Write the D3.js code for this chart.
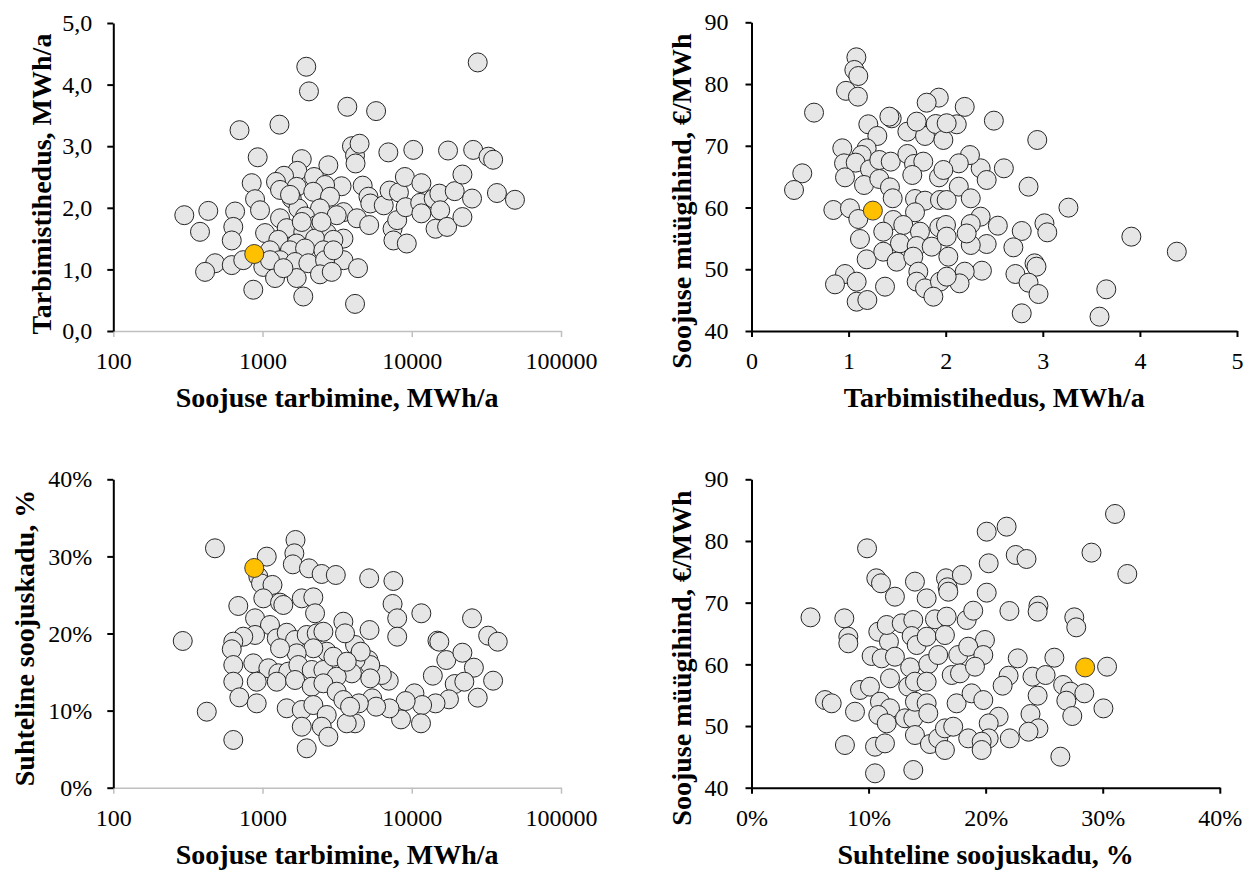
<!DOCTYPE html>
<html>
<head>
<meta charset="utf-8">
<script src="https://cdn.jsdelivr.net/npm/d3@7"></script>
<style>
  html, body { margin: 0; padding: 0; background: #ffffff; }
  svg { display: block; font-family: "Liberation Serif", "Times New Roman", serif; }
</style>
</head>
<body>
<script>
// Soojuse tarbimine (MWh/a) vs tarbimistihedus (MWh/a)
const consumptionA = [299,701,1298,1964,2047,3386,3486,3486,3486,3700,3973,4167,4200,4470,4365,4167,4290,4688,5126,5184,5272,5768,6490,6966,7096,7436,7536,7987,8204,8990,9100,9260,10240,11390,11600,11600,14020,14430,15300,15500,17250,17500,19400,21850,21850,25350,25800,27670,32650,35100,37220,49150,
  928,1832,2761,1711,2215,1393,1231,846,2624,1694,1310,2188,891,1570,2833,433,655,962,1738,2427,1310,1927,3141,637,381,1040,1452,2305,1875,2692,622,1276,1694,2249,2985,481,412,622,743,1122,1527,1927,2558,1012,1310,1652,2028,2624,2985,1213,1694,2427,2910,867,1875,
  1528,1832,2485,1122,1380];
const densityA = [1.88,3.26,3.35,4.29,3.89,2.35,1.93,1.50,1.15,3.64,3.00,2.85,2.72,3.04,1.02,0.44,1.83,2.36,2.18,1.72,2.07,3.57,2.04,2.90,2.28,1.66,1.47,1.80,2.25,2.50,2.01,1.42,2.94,2.08,2.40,1.91,2.15,1.66,2.23,1.96,1.69,2.93,2.27,2.54,1.85,2.15,2.94,4.36,2.83,2.78,2.24,2.13,
  2.82,2.79,2.69,2.60,2.50,2.52,2.42,2.40,2.37,2.34,2.29,2.26,2.14,2.15,2.18,1.95,1.94,1.96,1.99,1.99,1.83,1.86,1.88,1.69,1.61,1.59,1.67,1.72,1.61,1.59,1.47,1.48,1.42,1.50,1.48,1.10,0.96,1.07,1.15,1.31,1.31,1.34,1.31,1.04,1.15,1.12,1.10,1.15,1.31,0.86,0.86,0.92,0.96,0.67,0.56,
  2.21,1.77,1.77,1.15,1.02];

// Tarbimistihedus (MWh/a) vs soojuse müügihind (€/MWh)
const densityB = [1.080,1.059,1.100,0.973,1.096,1.929,2.196,2.496,2.114,2.943,2.599,2.360,2.250,2.422,2.135,2.135,2.258,2.360,2.258,2.537,2.853,3.264,3.017,3.046,2.783,2.697,2.422,2.258,2.915,2.935,2.373,2.196,2.143,2.718,2.853,2.956,2.783,3.584,3.654,3.912,4.380,
  0.644,1.203,1.296,1.444,1.420,1.605,1.787,1.701,1.897,1.804,1.976,2.010,0.935,1.186,1.135,0.953,1.073,1.220,1.316,1.434,1.605,1.674,1.769,0.963,1.159,1.316,1.426,1.656,1.931,1.976,0.523,0.438,0.843,1.014,1.100,1.454,1.684,1.787,1.684,1.941,2.010,1.460,1.563,1.735,1.934,2.003,1.117,1.357,1.529,1.701,1.856,2.010,1.186,1.357,1.495,1.666,2.027,0.963,0.860,1.083,1.375,1.718,1.701,1.787,1.941,2.010,1.083,1.193,1.873,
  2.216];
const priceB = [84.33,82.28,81.3,78.9,77.96,77.8,76.3,74.07,73.48,70.94,66.35,66.35,68.5,64.46,67.16,63.38,61.49,58.52,57.33,57.06,63.38,59.98,57.44,55.98,56.2,53.55,54.09,53.93,50.96,50.42,49.77,49.61,47.72,49.23,47.83,45.99,42.86,42.32,46.75,55.28,52.85,
  75.37,73.48,71.59,74.45,74.72,72.29,71.59,73.91,73.53,76.98,70.94,73.65,69.59,69.59,68.51,67.16,67.27,66.19,67.70,67.43,68.67,67.05,67.43,64.89,63.65,64.62,63.27,65.27,64.89,66.08,65.54,62.84,59.60,59.87,58.14,61.50,61.38,61.11,59.23,61.22,61.22,57.98,57.17,56.09,56.79,57.17,54.90,56.09,54.20,53.77,53.66,55.28,51.61,52.85,51.23,52.04,52.04,49.23,47.56,47.99,47.18,49.61,47.99,46.91,47.99,48.80,44.75,45.02,45.56,
  55.8];

// Soojuse tarbimine (MWh/a) vs suhteline soojuskadu (%)
const consumptionC = [480,1067,937,977,1166,1663,1634,1596,2047,2489,3097,5183,7534,7436,7987,7987,11590,25340,32500,37700,14860,15300,17040,21840,26080,19400,22500,35080,27670,17750,14430,13840,10420,11730,11530,9100,8470,7096,7010,6300,5210,5126,5270,5270,5430,5768,4420,4168,4168,4200,3970,4550,
  292,688,1012,1310,1378,1832,2190,2249,3480,3570,891,1122,891,743,637,622,1245,1452,1652,1977,2307,2558,2692,2190,1694,1310,637,867,1094,1276,1489,1738,2136,2558,2983,3140,3666,637,914,1245,1652,2136,2558,3140,3480,699,914,1452,1832,2190,2692,3666,423,637,1832,2494,2761,1977,
  3860];
const lossC = [31.05,29.97,27.37,26.5,26.3,32.13,30.4,28.97,28.45,27.72,27.59,27.16,26.81,23.83,21.97,19.59,22.62,21.97,19.72,18.94,19.07,18.94,16.56,17.51,15.57,13.45,13.75,13.88,11.68,11.46,10.94,14.53,12.24,10.72,8.35,11.24,8.86,10.29,13.88,14.62,20.45,16.56,15.91,14.18,11.59,10.51,10.94,8.35,18.51,16.56,14.83,17.64,
  19.03,23.57,24.56,24.0,23.70,24.56,24.69,22.62,21.53,20.02,21.97,21.10,19.81,19.59,18.94,17.95,19.37,20.1,19.16,19.81,20.02,20.23,17.64,18.08,17.43,18.08,15.91,16.13,15.49,14.84,15.05,15.91,15.27,15.27,16.99,14.40,16.34,13.75,13.75,13.75,13.97,13.10,13.54,12.45,11.37,11.72,10.94,10.30,10.08,10.72,9.43,8.35,9.86,6.19,7.91,7.91,6.61,5.11,
  10.5];

// Suhteline soojuskadu (%) vs soojuse müügihind (€/MWh)
const lossD = [5.04,9.87,10.66,11.06,13.96,16.61,16.75,17.97,20.09,20.26,20.09,21.79,22.57,23.49,31.05,29.04,32.10,24.51,24.44,22.03,27.57,27.74,22.74,25.87,30.37,21.96,21.45,24.0,25.12,26.62,27.23,28.43,30.06,26.89,27.4,24.44,23.83,21.11,20.26,24.51,23.66,22.06,20.26,26.38,
  12.25,14.96,16.81,7.93,8.27,8.27,10.83,11.74,11.55,12.83,13.82,13.68,14.11,14.96,15.67,16.67,16.52,18.38,18.94,19.94,10.26,11.12,12.25,13.55,15.10,15.95,17.66,18.51,19.80,17.10,17.81,19.09,11.83,13.39,13.96,14.96,9.27,10.12,10.97,11.83,6.28,6.85,8.84,10.83,11.55,13.11,13.82,13.96,14.96,15.10,17.52,18.80,19.80,13.96,15.24,15.95,16.52,17.23,16.52,18.51,19.66,19.66,7.98,10.55,11.40,10.55,13.82];
const priceD = [67.62,78.81,73.95,73.14,73.41,73.95,72.49,74.49,81.51,76.38,71.62,82.32,77.73,77.08,84.38,78.11,74.65,69.51,68.54,68.65,67.62,66.0,60.97,61.08,59.62,58.16,56.54,58.0,58.27,56.65,55.57,55.3,52.86,54.11,51.62,54.92,51.95,51.51,50.43,49.62,49.08,48.0,48.0,45.03,
  70.97,70.70,71.78,67.46,64.48,63.41,65.29,63.67,66.38,66.65,67.19,64.59,63.13,64.48,67.30,67.73,64.75,67.19,68.70,63.95,61.35,60.97,61.24,59.51,60.05,61.51,61.51,62.86,61.51,58.27,58.54,59.62,57.73,56.38,57.19,57.19,55.84,56.38,53.94,52.87,54.21,53.68,52.32,51.79,50.43,51.25,51.25,53.94,53.68,52.06,53.68,55.30,54.21,48.54,47.08,48.0,49.62,49.89,46.11,48.0,47.46,46.11,46.92,46.65,47.19,42.33,42.87];

// The highlighted network
const focusConsumption = 880;
const focusDensity = 1.25;
const focusPrice = 59.5;
const focusLoss = 28.5;

// Tick values
const logTicks = [100, 1000, 10000, 100000];
const densityTicks = [0, 1, 2, 3, 4, 5];
const priceTicks = [40, 50, 60, 70, 80, 90];
const lossTicks = [0, 10, 20, 30, 40];

const W = 1245, H = 871;
const svg = d3.select("body").append("svg")
  .attr("width", W).attr("height", H)
  .attr("viewBox", `0 0 ${W} ${H}`);
svg.append("rect").attr("width", W).attr("height", H).attr("fill", "#ffffff");

const fmtComma = d => d.toFixed(1).replace(".", ",");
const fmtPct = d => d + "%";

function panel(cfg) {
  const g = svg.append("g");
  const x = cfg.x, y = cfg.y;
  const [x0, x1] = x.range();
  const [y0, y1] = y.range();

  // x axis
  const xAxis = g.append("g")
    .attr("transform", `translate(0,${y0})`)
    .call(d3.axisBottom(x).tickValues(cfg.xTicks).tickFormat(cfg.xFmt)
      .tickSize(6).tickSizeOuter(0).tickPadding(15));
  xAxis.select(".domain").attr("stroke", cfg.xColor).attr("stroke-width", cfg.xWidth);
  xAxis.selectAll(".tick line").attr("stroke", cfg.xColor).attr("stroke-width", cfg.xWidth);
  xAxis.selectAll(".tick text").attr("fill", "#000").attr("font-size", 24)
    .attr("font-family", "Liberation Serif");

  // y axis
  const yAxis = g.append("g")
    .attr("transform", `translate(${x0},0)`)
    .call(d3.axisLeft(y).tickValues(cfg.yTicks).tickFormat(cfg.yFmt)
      .tickSize(6).tickSizeOuter(0).tickPadding(cfg.yPad));
  yAxis.select(".domain").attr("stroke", "#000").attr("stroke-width", 2);
  yAxis.selectAll(".tick line").attr("stroke", "#000").attr("stroke-width", 2);
  yAxis.selectAll(".tick text").attr("fill", "#000").attr("font-size", 24)
    .attr("font-family", "Liberation Serif");

  // points
  const pts = cfg.xs.map((v, i) => [v, cfg.ys[i]]);
  g.append("g").selectAll("circle").data(pts).join("circle")
    .attr("cx", d => x(d[0])).attr("cy", d => y(d[1])).attr("r", 9.5)
    .attr("fill", "#e6e6e6").attr("stroke", "#262626").attr("stroke-width", 1);
  g.append("circle")
    .attr("cx", x(cfg.hl[0])).attr("cy", y(cfg.hl[1])).attr("r", 9.5)
    .attr("fill", "#ffc000").attr("stroke", "#3a3a3a").attr("stroke-width", 1);

  // axis titles
  g.append("text")
    .attr("x", (x0 + x1) / 2).attr("y", cfg.xTitleY)
    .attr("text-anchor", "middle").attr("font-size", 28).attr("font-weight", "bold")
    .text(cfg.xTitle);
  g.append("text")
    .attr("transform", `translate(${cfg.yTitleX},${cfg.yTitleCY}) rotate(-90)`)
    .attr("text-anchor", "middle").attr("font-size", 28).attr("font-weight", "bold")
    .text(cfg.yTitle);
}

// Top left
panel({
  x: d3.scaleLog().domain([100, 100000]).range([113.3, 561]),
  y: d3.scaleLinear().domain([0, 5]).range([331, 23]),
  xTicks: logTicks, yTicks: densityTicks,
  xFmt: d => String(d), yFmt: fmtComma,
  xColor: "#bfbfbf", xWidth: 1.5, yPad: 15,
  xs: consumptionA, ys: densityA, hl: [focusConsumption, focusDensity],
  xTitle: "Soojuse tarbimine, MWh/a", xTitleY: 407,
  yTitle: "Tarbimistihedus, MWh/a", yTitleX: 51, yTitleCY: 184
});

// Top right
panel({
  x: d3.scaleLinear().domain([0, 5]).range([751.5, 1237]),
  y: d3.scaleLinear().domain([40, 90]).range([331, 22.3]),
  xTicks: densityTicks, yTicks: priceTicks,
  xFmt: d => String(d), yFmt: d => String(d),
  xColor: "#000", xWidth: 2, yPad: 17,
  xs: densityB, ys: priceB, hl: [focusDensity, focusPrice],
  xTitle: "Tarbimistihedus, MWh/a", xTitleY: 407,
  yTitle: "Soojuse müügihind, €/MWh", yTitleX: 691, yTitleCY: 201
});

// Bottom left
panel({
  x: d3.scaleLog().domain([100, 100000]).range([113.3, 561]),
  y: d3.scaleLinear().domain([0, 40]).range([787.7, 479.3]),
  xTicks: logTicks, yTicks: lossTicks,
  xFmt: d => String(d), yFmt: fmtPct,
  xColor: "#bfbfbf", xWidth: 1.5, yPad: 15,
  xs: consumptionC, ys: lossC, hl: [focusConsumption, focusLoss],
  xTitle: "Soojuse tarbimine, MWh/a", xTitleY: 864,
  yTitle: "Suhteline soojuskadu, %", yTitleX: 34, yTitleCY: 638
});

// Bottom right
panel({
  x: d3.scaleLinear().domain([0, 40]).range([751.5, 1219.8]),
  y: d3.scaleLinear().domain([40, 90]).range([787.7, 479.3]),
  xTicks: lossTicks, yTicks: priceTicks,
  xFmt: fmtPct, yFmt: d => String(d),
  xColor: "#000", xWidth: 2, yPad: 17,
  xs: lossD, ys: priceD, hl: [focusLoss, focusPrice],
  xTitle: "Suhteline soojuskadu, %", xTitleY: 864,
  yTitle: "Soojuse müügihind, €/MWh", yTitleX: 691, yTitleCY: 658
});
</script>
</body>
</html>
